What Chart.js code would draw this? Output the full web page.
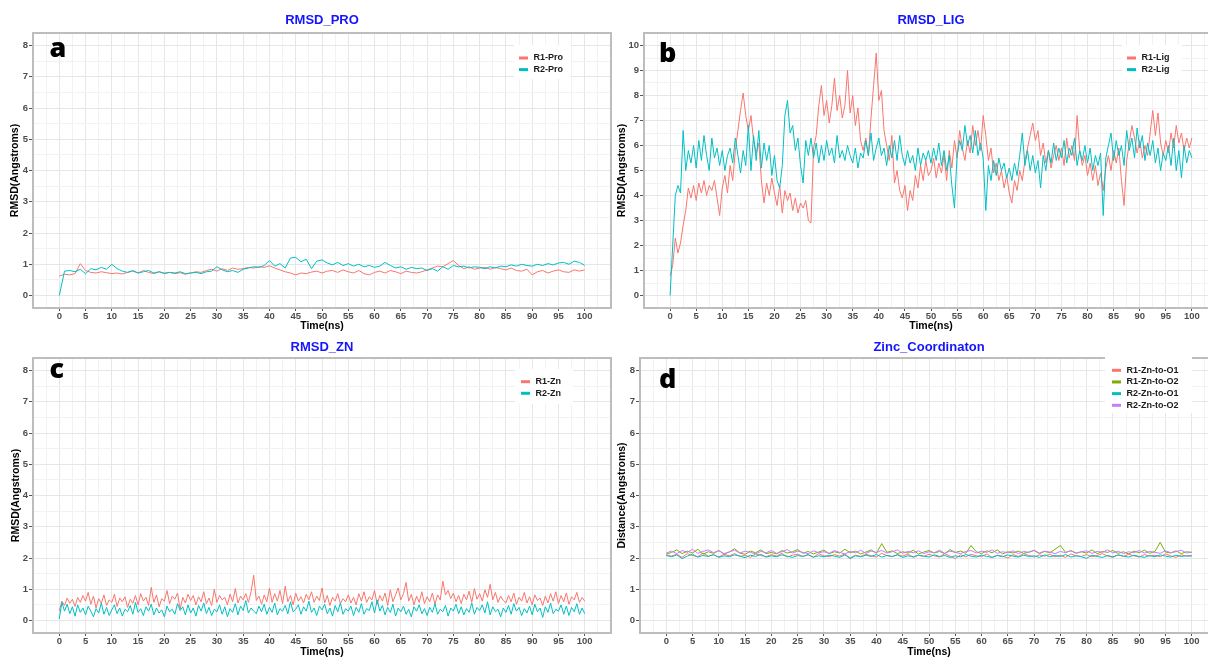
<!DOCTYPE html>
<html>
<head>
<meta charset="utf-8">
<title>RMSD panels</title>
<script src="https://cdn.jsdelivr.net/npm/chart.js@4.4.1/dist/chart.umd.min.js"></script>
<style>
  html, body { margin: 0; padding: 0; background: #fff; width: 1208px; height: 660px; overflow: hidden; position: relative; }
  canvas { position: absolute; }
</style>
</head>
<body>
<canvas id="chart-pro" width="620" height="340" style="left:0;top:0"></canvas>
<canvas id="chart-lig" width="610" height="340" style="left:612px;top:0"></canvas>
<canvas id="chart-zn" width="620" height="330" style="left:0;top:330px"></canvas>
<canvas id="chart-coord" width="610" height="330" style="left:612px;top:330px"></canvas>
<script>
// ---- data ----

// sampling times in ns
const timeFine = Array.from({ length: 201 }, (_, i) => i / 2);   // every 0.5 ns
const timeCoarse = Array.from({ length: 101 }, (_, i) => i);      // every 1 ns

// tick labels
const timeTicks = [0, 5, 10, 15, 20, 25, 30, 35, 40, 45, 50, 55, 60, 65, 70, 75, 80, 85, 90, 95, 100];
const rmsdTicks = [0, 1, 2, 3, 4, 5, 6, 7, 8];
const ligTicks = [0, 1, 2, 3, 4, 5, 6, 7, 8, 9, 10];

// a) protein RMSD, 1 ns
const r1Pro = [
  0.62, 0.68, 0.66, 0.70, 1.02, 0.80, 0.74, 0.72, 0.76, 0.73,
  0.70, 0.72, 0.69, 0.74, 0.78, 0.72, 0.80, 0.74, 0.70, 0.76,
  0.72, 0.74, 0.70, 0.73, 0.68, 0.72, 0.76, 0.74, 0.80, 0.84,
  0.78, 0.86, 0.80, 0.88, 0.84, 0.86, 0.90, 0.88, 0.92, 0.90,
  0.95, 0.88, 0.82, 0.76, 0.72, 0.66, 0.72, 0.70, 0.75, 0.78,
  0.72, 0.78, 0.80, 0.74, 0.82, 0.76, 0.72, 0.80, 0.70, 0.66,
  0.74, 0.78, 0.72, 0.80, 0.76, 0.70, 0.78, 0.74, 0.72, 0.76,
  0.82, 0.88, 0.94, 0.92, 1.02, 1.12, 0.96, 0.86, 0.92, 0.84,
  0.88, 0.90, 0.84, 0.90, 0.86, 0.82, 0.88, 0.80, 0.78, 0.84,
  0.66, 0.76, 0.80, 0.72, 0.78, 0.82, 0.76, 0.74, 0.82, 0.78,
  0.82
];
const r2Pro = [
  0.00, 0.78, 0.80, 0.76, 0.84, 0.70, 0.86, 0.82, 0.90, 0.84,
  1.00, 0.86, 0.78, 0.74, 0.80, 0.72, 0.76, 0.80, 0.72, 0.76,
  0.70, 0.74, 0.72, 0.76, 0.70, 0.72, 0.74, 0.70, 0.76, 0.78,
  0.92, 0.82, 0.76, 0.80, 0.74, 0.84, 0.88, 0.92, 0.90, 0.96,
  1.12, 0.94, 1.02, 0.88, 1.20, 1.22, 1.08, 1.16, 0.86, 1.10,
  1.14, 1.04, 0.98, 1.06, 0.96, 1.02, 0.94, 1.00, 0.92, 0.96,
  0.90, 0.94, 1.06, 0.96, 0.88, 0.92, 0.84, 0.90, 0.86, 0.88,
  0.80, 0.86, 0.78, 0.92, 0.84, 0.96, 0.92, 0.94, 0.88, 0.92,
  0.90, 0.86, 0.92, 0.88, 0.94, 0.92, 0.98, 0.94, 1.00, 0.96,
  0.94, 1.00, 0.96, 1.02, 0.98, 1.04, 1.06, 1.00, 1.10, 1.06,
  0.96
];

// b) ligand RMSD, 0.5 ns
const r1Lig = [
  0.8, 1.2, 2.3, 1.7, 2.1, 2.8, 3.4, 4.3, 3.9, 4.4,
  3.8, 4.5, 4.1, 4.6, 4.0, 4.4, 4.2, 4.6, 3.9, 3.2,
  4.3, 4.8, 4.1, 5.2, 4.6, 5.8, 6.6, 7.4, 8.1, 7.2,
  6.6, 7.2, 6.2, 5.7, 6.1, 4.6, 3.7, 4.5, 4.0, 4.7,
  4.1, 3.6, 4.4, 3.3, 4.2, 3.8, 4.1, 3.4, 3.9, 3.3,
  3.7, 3.5, 3.8, 3.0, 2.9, 5.9, 6.4, 7.6, 8.4, 7.2,
  7.8, 6.9, 7.6, 8.7, 7.4, 8.0, 7.1, 7.6, 9.0, 7.3,
  8.0, 6.8, 7.5, 6.2, 5.8, 6.3, 5.6, 7.1, 8.4, 9.7,
  7.8, 8.2, 6.6, 6.0, 5.4, 6.4, 4.5, 5.0, 4.2, 3.9,
  4.4, 3.4, 4.2, 3.8, 4.8, 4.3, 5.2, 4.6, 5.4, 4.8,
  5.0, 5.5, 4.7, 5.3, 4.9, 5.6, 4.6, 5.8, 5.1, 6.2,
  5.5, 6.6, 5.9, 5.4, 6.2, 5.7, 6.8, 6.0, 6.6, 5.8,
  7.2, 6.4, 5.4, 5.9, 4.9, 5.3, 4.6, 5.0, 4.3, 4.8,
  4.1, 3.7, 4.6, 4.2, 5.0, 4.6, 5.4, 5.9, 6.4, 6.9,
  6.2, 6.6, 5.6, 6.1, 5.3, 5.8, 5.1, 5.6, 6.0, 5.4,
  5.9, 5.2, 6.3, 5.5, 6.0, 5.4, 7.2, 5.8, 5.2, 5.6,
  4.8, 5.3, 4.6, 5.2, 4.4, 4.9, 4.2, 5.1, 5.6, 5.0,
  5.8, 5.3, 5.9, 4.6, 3.6, 5.4, 6.1, 6.8, 6.3, 5.7,
  6.2, 5.5, 6.0, 5.6, 6.5, 7.4, 6.4, 7.3, 6.1, 5.6,
  6.2, 5.7, 6.5, 5.9, 6.8, 6.1, 6.5, 5.8, 6.3, 5.9,
  6.3
];
const r2Lig = [
  0.0, 2.0, 4.0, 4.4, 4.1, 6.6, 5.0, 5.8, 5.3, 6.0,
  5.1, 6.2, 5.4, 6.4, 5.6, 5.0, 6.3, 5.5, 5.9, 5.2,
  5.8, 5.0, 5.6, 5.9, 5.3, 6.3, 5.6, 4.9, 5.8, 5.2,
  6.8, 5.0, 6.4, 5.4, 6.6, 5.1, 6.1, 5.4, 6.0, 4.8,
  5.6, 4.6, 4.3, 5.2, 7.2, 7.8, 6.5, 6.8, 5.8, 6.3,
  5.2, 4.5, 6.2, 5.6, 6.3, 5.5, 6.1, 5.3, 6.0, 5.4,
  6.2, 5.6, 5.9, 5.3, 6.4, 5.5, 5.8, 5.4, 6.0, 5.6,
  5.3, 5.9, 5.1, 5.7, 5.5, 6.2, 5.6, 6.5, 5.4, 5.9,
  6.3, 5.6, 5.9, 5.2, 6.0, 5.5, 6.2, 5.4, 6.4, 5.6,
  5.2, 5.8, 5.3, 5.6, 5.0, 5.9, 5.2, 5.7, 5.4, 5.8,
  5.3, 5.9, 5.4, 6.1, 5.2, 5.8, 5.0, 5.6, 4.4, 3.5,
  5.6, 6.2, 5.8, 6.8, 6.0, 6.4, 5.7, 6.6, 5.6, 6.1,
  5.5, 3.4, 5.2, 4.6, 5.4, 4.8, 5.5, 5.0, 5.3, 4.7,
  5.1, 4.6, 5.3, 4.8, 5.6, 6.5, 5.2, 5.8, 5.0, 5.6,
  4.9, 5.4, 4.3, 5.6, 5.0, 5.8, 5.3, 6.1, 5.4, 5.9,
  5.5, 6.2, 5.3, 5.9, 5.6, 6.3, 5.2, 5.8, 5.4, 6.0,
  5.3, 5.9, 5.0, 5.6, 5.2, 5.7, 3.2, 5.5, 6.0, 6.5,
  5.4, 6.2, 5.6, 6.0, 5.2, 6.6, 5.8, 6.3, 5.5, 6.7,
  5.9, 6.4, 5.4, 6.1, 5.6, 6.2, 5.3, 5.9, 5.0, 5.7,
  5.4, 6.0, 5.2, 6.3, 5.0, 5.8, 4.7, 6.0, 5.3, 5.8,
  5.5
];

// c) zinc RMSD, 0.5 ns
const r1Zn = [
  0.30, 0.62, 0.48, 0.72, 0.55, 0.68, 0.45, 0.74, 0.58, 0.80,
  0.62, 0.90, 0.52, 0.78, 0.40, 0.70, 0.55, 0.82, 0.48, 0.66,
  0.58, 0.84, 0.45, 0.72, 0.60, 0.76, 0.42, 0.68, 0.55, 0.80,
  0.50, 0.86, 0.62, 0.74, 0.48, 1.06, 0.58, 0.82, 0.44, 0.70,
  0.62, 0.96, 0.54, 0.78, 0.68, 0.88, 0.36, 0.74, 0.56, 0.84,
  0.64, 0.80, 0.50, 0.76, 0.60, 0.92, 0.54, 0.72, 0.48, 1.00,
  0.58, 0.80, 0.66, 0.74, 0.50, 0.84, 0.60, 1.02, 0.56, 0.78,
  0.66, 0.86, 0.58, 0.92, 1.45, 0.64, 0.78, 0.52, 0.82, 0.60,
  1.04, 0.58, 0.86, 0.62, 0.96, 0.54, 1.10, 0.60, 0.80, 0.50,
  0.88, 0.62, 0.76, 0.56, 0.84, 0.66, 0.92, 0.58, 0.78, 0.64,
  1.04, 0.56, 0.80, 0.48, 0.74, 0.62, 0.86, 0.54, 0.70, 0.60,
  0.82, 0.56, 0.74, 0.50, 0.86, 0.62, 0.92, 0.58, 0.76, 0.66,
  0.96, 0.52, 0.80, 0.62, 0.88, 0.48, 0.98, 0.60, 0.82, 1.04,
  0.66, 0.86, 1.22, 0.62, 0.84, 0.50, 0.78, 0.58, 0.92, 0.54,
  0.76, 0.60, 0.88, 0.52, 0.82, 0.66, 1.26, 0.82, 0.96, 0.70,
  0.88, 0.60, 0.80, 0.54, 0.84, 0.66, 0.94, 0.58, 1.02, 0.68,
  0.86, 0.62, 0.98, 0.74, 1.16, 0.66, 0.90, 0.58, 0.78, 0.64,
  0.56, 0.80, 0.60, 0.88, 0.52, 0.74, 0.62, 0.90, 0.56, 0.76,
  0.50, 0.82, 0.64, 0.72, 0.48, 0.78, 0.56, 0.86, 0.62, 0.92,
  0.54, 0.80, 0.60, 0.88, 0.52, 0.76, 0.66, 0.90, 0.58, 0.74,
  0.62
];
const r2Zn = [
  0.05, 0.58, 0.30, 0.52, 0.22, 0.44, 0.14, 0.50, 0.26, 0.40,
  0.18, 0.46, 0.30, 0.12, 0.38, 0.24, 0.56, 0.20, 0.42, 0.16,
  0.34, 0.50, 0.22, 0.40, 0.14, 0.36, 0.28, 0.48, 0.20, 0.58,
  0.26, 0.38, 0.16, 0.44, 0.30, 0.52, 0.18, 0.40, 0.24, 0.34,
  0.12, 0.46, 0.28, 0.36, 0.20, 0.54, 0.32, 0.44, 0.18, 0.50,
  0.24, 0.40, 0.14, 0.48, 0.30, 0.56, 0.22, 0.42, 0.16, 0.36,
  0.28, 0.50, 0.20, 0.44, 0.12, 0.38, 0.26, 0.54, 0.18, 0.46,
  0.32, 0.64, 0.24, 0.40, 0.30, 0.22, 0.46, 0.28, 0.52, 0.20,
  0.42, 0.26, 0.56, 0.18, 0.38, 0.30, 0.48, 0.22, 0.60, 0.28,
  0.36, 0.50, 0.20, 0.44, 0.30, 0.62, 0.26, 0.40, 0.16, 0.46,
  0.34, 0.52, 0.22, 0.40, 0.14, 0.48, 0.28, 0.56, 0.20, 0.38,
  0.30, 0.46, 0.16, 0.42, 0.26, 0.54, 0.20, 0.38, 0.32, 0.60,
  0.24, 0.66, 0.30, 0.48, 0.18, 0.42, 0.26, 0.52, 0.14, 0.40,
  0.28, 0.46, 0.20, 0.36, 0.12, 0.44, 0.30, 0.50, 0.22, 0.38,
  0.16, 0.42, 0.26, 0.54, 0.20, 0.36, 0.28, 0.48, 0.14, 0.40,
  0.30, 0.52, 0.22, 0.44, 0.18, 0.38, 0.26, 0.56, 0.20, 0.42,
  0.32, 0.50, 0.24, 0.60, 0.18, 0.44, 0.28, 0.36, 0.12, 0.40,
  0.26, 0.48, 0.20, 0.54, 0.30, 0.42, 0.16, 0.38, 0.24, 0.46,
  0.18, 0.52, 0.28, 0.40, 0.10, 0.44, 0.26, 0.56, 0.22, 0.36,
  0.30, 0.50, 0.20, 0.46, 0.16, 0.42, 0.28, 0.54, 0.20, 0.40,
  0.22
];

// d) zinc coordination distances, 1 ns
const r1ZnO1 = [
  2.10, 2.06, 2.12, 2.02, 2.14, 2.08, 2.04, 2.16, 2.06, 2.10,
  2.03, 2.12, 2.07, 2.14, 2.05, 2.09, 2.02, 2.13, 2.08, 2.04,
  2.11, 2.06, 2.15, 2.03, 2.09, 2.12, 2.05, 2.10, 2.02, 2.14,
  2.07, 2.04, 2.11, 2.06, 2.13, 2.00, 2.09, 2.05, 2.12, 2.07,
  2.03, 2.15, 2.08, 2.04, 2.11, 2.06, 2.13, 2.02, 2.09, 2.05,
  2.12, 2.07, 2.03, 2.14, 2.06, 1.98, 2.10, 2.04, 2.12, 2.07,
  2.05, 2.13, 2.02, 2.09, 2.06, 2.00, 2.11, 2.05, 2.14, 2.08,
  2.03, 2.10, 2.06, 2.12, 2.04, 2.09, 2.02, 2.13, 2.07, 2.05,
  2.11, 2.04, 2.08, 2.14, 2.06, 2.02, 2.10, 2.05, 2.12, 2.07,
  2.03, 2.11, 2.06, 2.09, 2.04, 2.13, 2.07, 2.02, 2.10, 2.06,
  2.08
];
const r1ZnO2 = [
  2.12, 2.18, 2.26, 2.14, 2.22, 2.16, 2.28, 2.12, 2.20, 2.15,
  2.24, 2.13, 2.19, 2.30, 2.16, 2.12, 2.22, 2.17, 2.26, 2.14,
  2.18, 2.13, 2.24, 2.16, 2.20, 2.27, 2.15, 2.21, 2.13, 2.19,
  2.25, 2.14, 2.20, 2.16, 2.28, 2.17, 2.22, 2.13, 2.19, 2.26,
  2.15, 2.46, 2.18, 2.23, 2.14, 2.20, 2.16, 2.25, 2.13, 2.19,
  2.24, 2.16, 2.21, 2.14, 2.27, 2.18, 2.22, 2.15, 2.40, 2.20,
  2.14, 2.23, 2.17, 2.26, 2.13, 2.20, 2.16, 2.22, 2.15, 2.19,
  2.24, 2.14, 2.21, 2.17, 2.28, 2.40, 2.18, 2.23, 2.15, 2.20,
  2.16, 2.26, 2.14, 2.21, 2.18, 2.24, 2.15, 2.20, 2.13, 2.22,
  2.17, 2.25, 2.15, 2.21, 2.50, 2.19, 2.16, 2.23, 2.14, 2.20,
  2.18
];
const r2ZnO1 = [
  2.08, 2.04, 2.10, 1.98, 2.06, 2.12, 2.03, 2.08, 2.05, 2.11,
  2.02, 2.07, 2.04, 2.10, 2.06, 2.01, 2.09, 2.05, 2.12, 2.03,
  2.07, 2.04, 2.10, 2.06, 2.02, 2.08, 2.05, 2.11, 2.03, 2.07,
  2.04, 2.09, 2.06, 2.02, 2.10, 1.98, 2.07, 2.04, 2.09, 2.05,
  2.11, 2.03, 2.08, 2.05, 2.10, 2.02, 2.07, 2.04, 2.09, 2.06,
  2.03, 2.10, 2.05, 2.08, 2.02, 2.07, 2.04, 2.11, 2.06, 2.03,
  2.09, 2.05, 2.02, 2.08, 2.04, 2.10, 2.06, 2.03, 2.09, 2.05,
  2.07, 2.02, 2.10, 2.04, 2.08, 2.05, 2.11, 2.03, 2.07, 2.04,
  1.99, 2.09, 2.05, 2.02, 2.08, 2.04, 2.10, 2.06, 2.03, 2.09,
  2.05, 2.02, 2.08, 2.04, 2.10, 2.06, 2.03, 2.09, 2.05, 2.07,
  2.06
];
const r2ZnO2 = [
  2.16, 2.22, 2.14, 2.24, 2.18, 2.28, 2.15, 2.21, 2.26, 2.17,
  2.23, 2.14, 2.20, 2.25, 2.16, 2.22, 2.18, 2.13, 2.21, 2.17,
  2.24, 2.15, 2.20, 2.27, 2.16, 2.22, 2.18, 2.14, 2.23, 2.17,
  2.20, 2.15, 2.24, 2.18, 2.13, 2.21, 2.17, 2.25, 2.15, 2.22,
  2.18, 2.24, 2.16, 2.20, 2.26, 2.15, 2.21, 2.17, 2.23, 2.14,
  2.20, 2.17, 2.25, 2.15, 2.22, 2.18, 2.14, 2.21, 2.24, 2.16,
  2.22, 2.18, 2.26, 2.15, 2.20, 2.17, 2.23, 2.14, 2.21, 2.18,
  2.25, 2.16, 2.22, 2.19, 2.14, 2.21, 2.17, 2.24, 2.16, 2.20,
  2.23, 2.15, 2.21, 2.18, 2.26, 2.16, 2.22, 2.14, 2.20, 2.17,
  2.24, 2.16, 2.21, 2.18, 2.15, 2.23, 2.17, 2.20, 2.25, 2.16,
  2.19
];

// ggplot default hues
const RED = '#F8766D';
const GREEN = '#7CAE00';
const TEAL = '#00BFC4';
const PURPLE = '#C77CFF';

const FONT = '"Liberation Sans", Arial, sans-serif';
Chart.defaults.font.family = FONT;

/**
 * Major ticks plus the half-way minor ticks used for the lighter grid
 */
function withMinorTicks(majors, min, max) {
    const step = majors[1] - majors[0];
    const out = [{ value: majors[0] - step / 2, major: false }];
    majors.forEach(v => {
        out.push({ value: v, major: true });
        out.push({ value: v + step / 2, major: false });
    });
    return out.filter(t => t.value > min && t.value < max);
}

// grey box round the plot area (ggplot panel.border)
const panelBorder = {
    id: 'panelBorder',
    afterDatasetsDraw(chart) {
        const { ctx, chartArea: a } = chart;
        ctx.save();
        ctx.strokeStyle = '#bdbdbd';
        ctx.lineWidth = 2;
        ctx.strokeRect(a.left, a.top, a.right - a.left, a.bottom - a.top);
        ctx.restore();
    }
};

// legend drawn inside the plot, top right
const panelLegend = {
    id: 'panelLegend',
    afterDraw(chart, args, opts) {
        const ctx = chart.ctx;
        ctx.save();
        ctx.fillStyle = '#fff';
        ctx.fillRect(opts.box[0], opts.box[1], opts.box[2], opts.box[3]);
        ctx.font = 'bold 9px ' + FONT;
        ctx.textBaseline = 'middle';
        chart.data.datasets.forEach((ds, i) => {
            const y = opts.y + i * opts.gap;
            ctx.strokeStyle = ds.borderColor;
            ctx.lineWidth = 3;
            ctx.beginPath();
            ctx.moveTo(opts.x, y);
            ctx.lineTo(opts.x + 9, y);
            ctx.stroke();
            ctx.fillStyle = '#1a1a1a';
            ctx.fillText(ds.label, opts.x + 14.5, y);
        });
        ctx.restore();
    }
};

// big panel letter
const panelTag = {
    id: 'panelTag',
    afterDraw(chart, args, opts) {
        const ctx = chart.ctx;
        ctx.save();
        ctx.font = '800 27px "Open Sans", ' + FONT;
        ctx.fillStyle = '#000';
        ctx.textBaseline = 'alphabetic';
        ctx.fillText(opts.text, opts.x, opts.y);
        ctx.restore();
    }
};

function buildPanel(canvasId, cfg) {
    const datasets = cfg.series.map((s, i) => ({
        label: s.label,
        data: s.values.map((v, j) => ({ x: cfg.times[j], y: v })),
        borderColor: s.color,
        backgroundColor: s.color,
        borderWidth: 1,
        pointRadius: 0,
        tension: 0,
        order: cfg.series.length - i   // later series on top, like ggplot
    }));

    const gridColor = ctx => (ctx.tick && ctx.tick.major ? '#e6e6e6' : '#f2f2f2');
    const tickColor = ctx => (ctx.tick && ctx.tick.major ? '#555' : 'rgba(0,0,0,0)');
    const tickFont = { size: 9.5, weight: 'bold', lineHeight: 1 };
    const axisTitleFont = { size: 10.5, weight: 'bold', lineHeight: 1.2 };

    return new Chart(document.getElementById(canvasId), {
        type: 'line',
        data: { datasets: datasets },
        options: {
            responsive: false,
            animation: false,
            events: [],
            layout: { padding: { left: 0, right: cfg.padRight, top: 0, bottom: 0 } },
            plugins: {
                legend: { display: false },
                tooltip: { enabled: false },
                title: {
                    display: true,
                    text: cfg.title,
                    fullSize: false,
                    color: '#1414ff',
                    font: { size: 13, weight: 'bold', lineHeight: 1.2 },
                    padding: cfg.titlePad
                },
                panelLegend: cfg.legend,
                panelTag: cfg.tag
            },
            scales: {
                x: {
                    type: 'linear',
                    min: -5,
                    max: 105,
                    afterBuildTicks: scale => { scale.ticks = withMinorTicks(timeTicks, -5, 105); },
                    afterFit: scale => { scale.height = cfg.xAxisHeight; },
                    grid: { color: gridColor, lineWidth: 1, tickColor: tickColor, tickLength: 3 },
                    border: { display: false },
                    ticks: {
                        autoSkip: false,
                        maxRotation: 0,
                        padding: 1,
                        color: '#4d4d4d',
                        font: tickFont,
                        callback: (v, i, ticks) => (ticks[i].major ? String(v) : '')
                    },
                    title: {
                        display: true,
                        text: 'Time(ns)',
                        color: '#000',
                        font: axisTitleFont,
                        padding: { top: 0, bottom: cfg.xTitleBottom }
                    }
                },
                y: {
                    type: 'linear',
                    min: cfg.yMin,
                    max: cfg.yMax,
                    afterBuildTicks: scale => { scale.ticks = withMinorTicks(cfg.yTicks, cfg.yMin, cfg.yMax); },
                    afterFit: scale => { scale.width = cfg.yAxisWidth; },
                    grid: { color: gridColor, lineWidth: 1, tickColor: tickColor, tickLength: 4 },
                    border: { display: false },
                    ticks: {
                        autoSkip: false,
                        padding: 1,
                        color: '#4d4d4d',
                        font: tickFont,
                        callback: (v, i, ticks) => (ticks[i].major ? String(v) : '')
                    },
                    title: {
                        display: true,
                        text: cfg.yTitle,
                        color: '#000',
                        font: axisTitleFont,
                        padding: { top: cfg.yTitleTop, bottom: 0 }
                    }
                }
            }
        },
        plugins: [panelBorder, panelLegend, panelTag]
    });
}

buildPanel('chart-pro', {
    title: 'RMSD_PRO',
    yTitle: 'RMSD(Angstroms)',
    yMin: -0.4, yMax: 8.4, yTicks: rmsdTicks,
    times: timeCoarse,
    series: [
        { label: 'R1-Pro', values: r1Pro, color: RED },
        { label: 'R2-Pro', values: r2Pro, color: TEAL }
    ],
    padRight: 9, yAxisWidth: 33, xAxisHeight: 32,
    titlePad: { top: 13, bottom: 4.4 }, yTitleTop: 9, xTitleBottom: 7.7,
    legend: { box: [514, 45, 57, 34], x: 519, y: 58, gap: 11.6 },
    tag: { text: 'a', x: 49.5, y: 56.7 }
});

buildPanel('chart-lig', {
    title: 'RMSD_LIG',
    yTitle: 'RMSD(Angstroms)',
    yMin: -0.5, yMax: 10.5, yTicks: ligTicks,
    times: timeFine,
    series: [
        { label: 'R1-Lig', values: r1Lig, color: RED },
        { label: 'R2-Lig', values: r2Lig, color: TEAL }
    ],
    padRight: 4, yAxisWidth: 32, xAxisHeight: 32,
    titlePad: { top: 13, bottom: 4.4 }, yTitleTop: 4.2, xTitleBottom: 7.7,
    legend: { box: [510, 45, 60, 34], x: 515, y: 58, gap: 11.6 },
    tag: { text: 'b', x: 47, y: 61.5 }
});

buildPanel('chart-zn', {
    title: 'RMSD_ZN',
    yTitle: 'RMSD(Angstroms)',
    yMin: -0.4, yMax: 8.4, yTicks: rmsdTicks,
    times: timeFine,
    series: [
        { label: 'R1-Zn', values: r1Zn, color: RED },
        { label: 'R2-Zn', values: r2Zn, color: TEAL }
    ],
    padRight: 9, yAxisWidth: 33, xAxisHeight: 27,
    titlePad: { top: 9.2, bottom: 3.2 }, yTitleTop: 9.5, xTitleBottom: 2,
    legend: { box: [515, 39, 58, 35], x: 521, y: 51.7, gap: 11.6 },
    tag: { text: 'c', x: 49.5, y: 48.3 }
});

buildPanel('chart-coord', {
    title: 'Zinc_Coordinaton',
    yTitle: 'Distance(Angstroms)',
    yMin: -0.4, yMax: 8.4, yTicks: rmsdTicks,
    times: timeCoarse,
    series: [
        { label: 'R1-Zn-to-O1', values: r1ZnO1, color: RED },
        { label: 'R1-Zn-to-O2', values: r1ZnO2, color: GREEN },
        { label: 'R2-Zn-to-O1', values: r2ZnO1, color: TEAL },
        { label: 'R2-Zn-to-O2', values: r2ZnO2, color: PURPLE }
    ],
    padRight: 4, yAxisWidth: 28, xAxisHeight: 27,
    titlePad: { top: 9.2, bottom: 3.2 }, yTitleTop: 4.2, xTitleBottom: 2,
    legend: { box: [493, 20, 87, 63], x: 500, y: 40.3, gap: 11.67 },
    tag: { text: 'd', x: 47, y: 58.3 }
});
</script>
</body>
</html>
